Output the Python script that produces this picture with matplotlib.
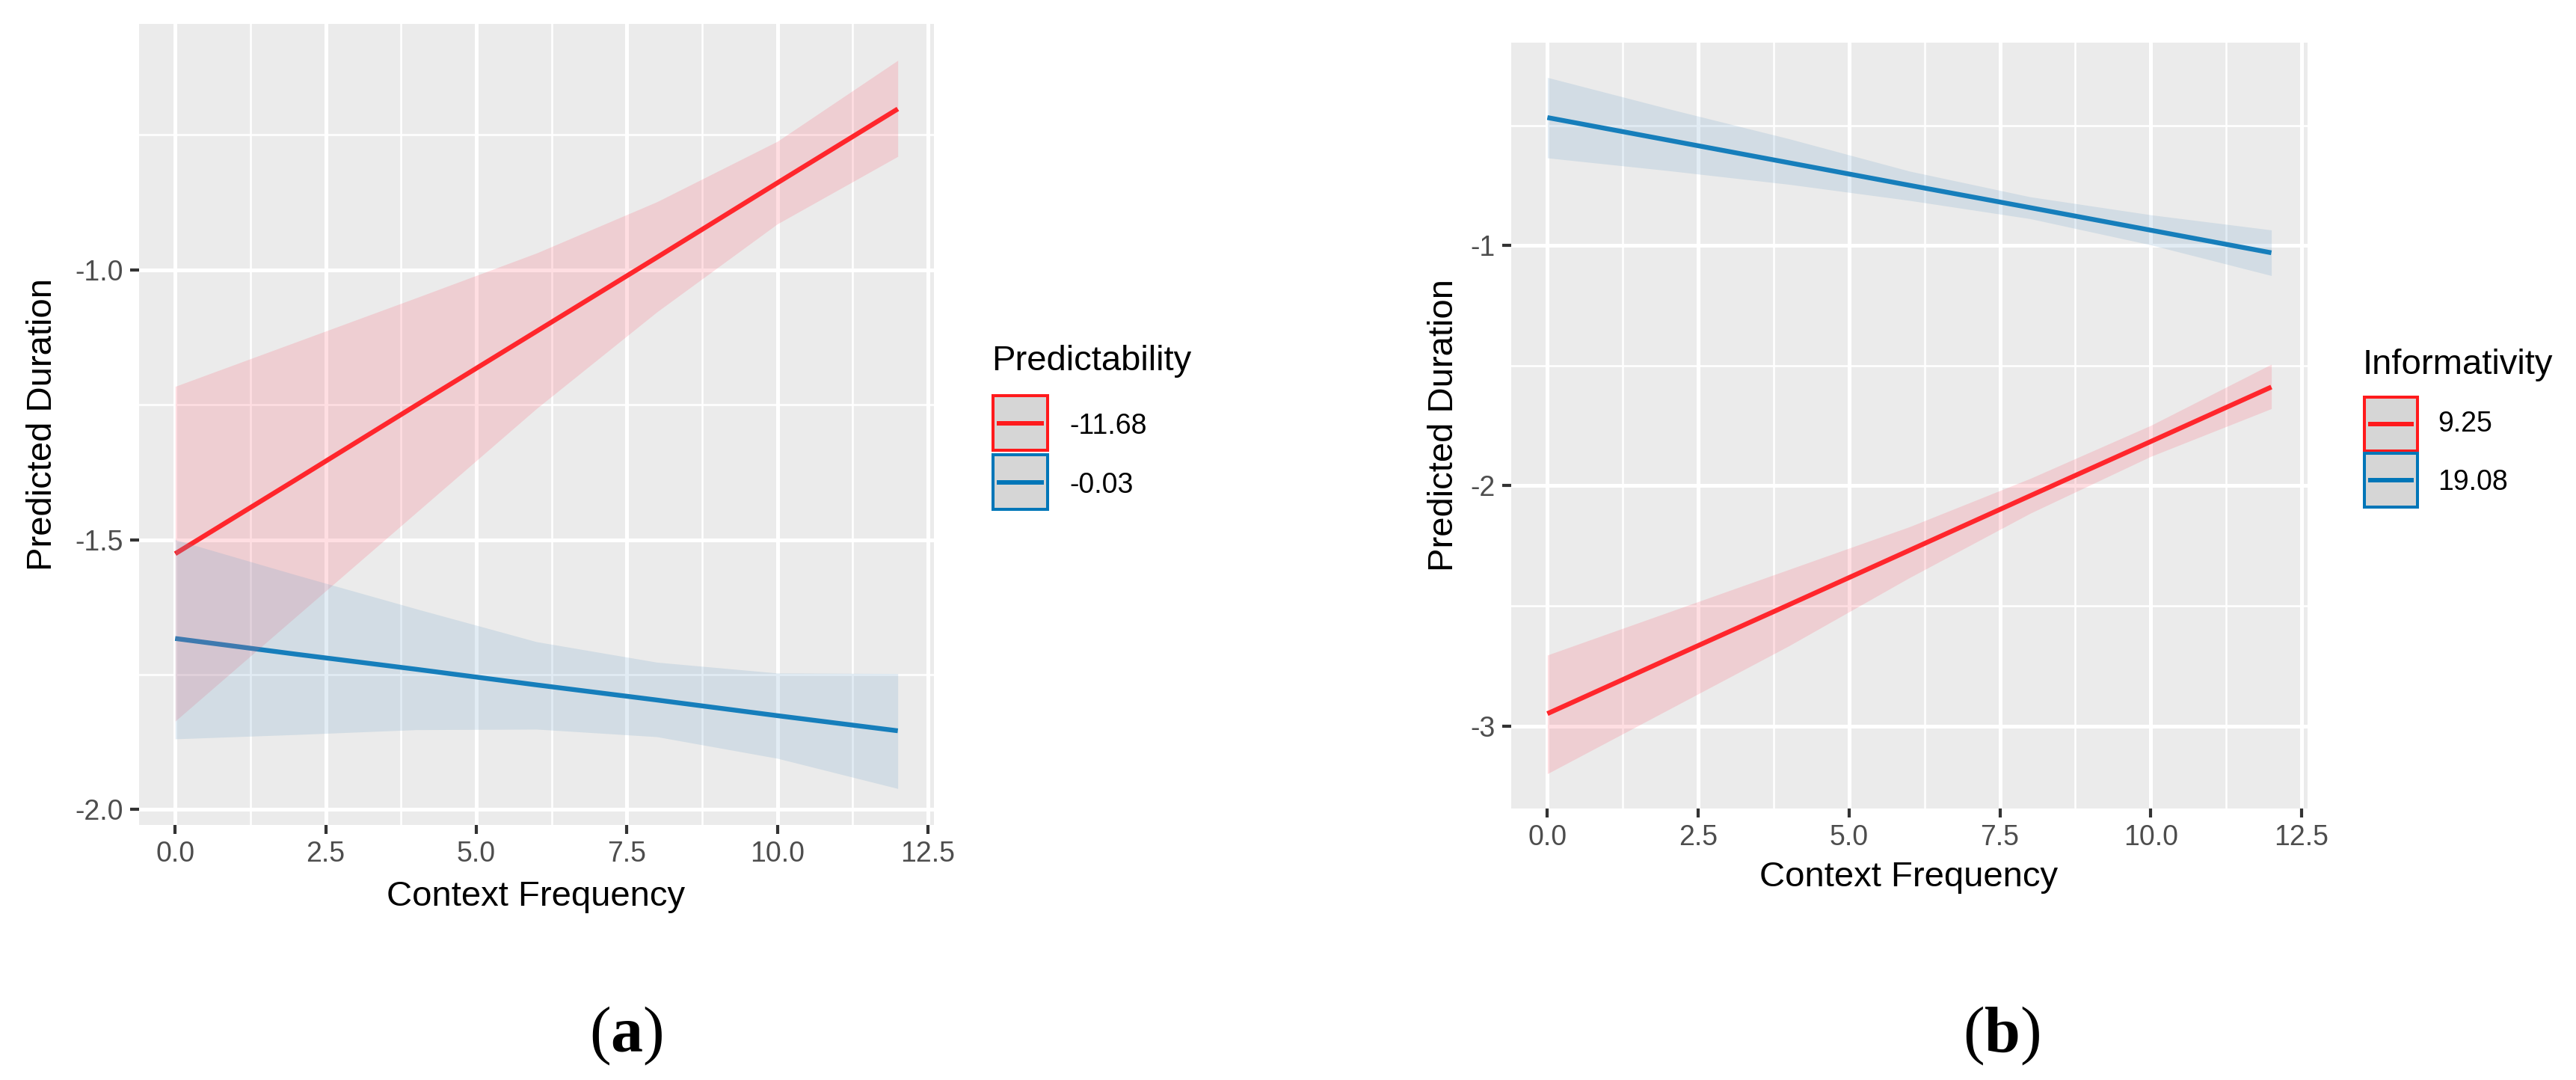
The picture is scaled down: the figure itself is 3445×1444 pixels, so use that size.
import matplotlib
matplotlib.use("Agg")
import matplotlib.pyplot as plt
import matplotlib.transforms as mtransforms
from matplotlib.patches import Rectangle
from matplotlib.lines import Line2D
import numpy as np

plt.rcParams['font.family'] = ['Liberation Sans', 'DejaVu Sans']
plt.rcParams['mathtext.fontset'] = 'custom'
plt.rcParams['mathtext.rm'] = 'Liberation Serif'
plt.rcParams['mathtext.bf'] = 'Liberation Serif:bold'

# ---------------- data ----------------
context_freq = [0, 2, 4, 6, 8, 10, 12]

# panel (a): Predictability
a_labels = ["-11.68", "-0.03"]
a_red_fit = [-1.526, -1.389, -1.251, -1.114, -0.977, -0.839, -0.702]
a_red_lo = [-1.836, -1.643, -1.450, -1.257, -1.078, -0.915, -0.790]
a_red_hi = [-1.216, -1.134, -1.052, -0.969, -0.874, -0.762, -0.612]
a_blue_fit = [-1.683, -1.712, -1.740, -1.769, -1.797, -1.826, -1.854]
a_blue_lo = [-1.869, -1.861, -1.852, -1.851, -1.865, -1.905, -1.961]
a_blue_hi = [-1.500, -1.565, -1.628, -1.689, -1.727, -1.747, -1.748]
a_yticks = [-2.0, -1.5, -1.0]
a_yticklabels = ["-2.0", "-1.5", "-1.0"]
a_yminor = [-1.75, -1.25, -0.75]

# panel (b): Informativity
b_labels = ["9.25", "19.08"]
b_red_fit = [-2.949, -2.722, -2.496, -2.269, -2.042, -1.816, -1.589]
b_red_lo = [-3.199, -2.933, -2.667, -2.383, -2.115, -1.878, -1.679]
b_red_hi = [-2.705, -2.527, -2.349, -2.171, -1.970, -1.749, -1.494]
b_blue_fit = [-0.467, -0.561, -0.655, -0.749, -0.842, -0.936, -1.030]
b_blue_lo = [-0.635, -0.688, -0.745, -0.812, -0.888, -0.997, -1.125]
b_blue_hi = [-0.300, -0.430, -0.555, -0.690, -0.797, -0.872, -0.935]
b_yticks = [-3, -2, -1]
b_yticklabels = ["-3", "-2", "-1"]
b_yminor = [-2.5, -1.5, -0.5]

xticks = [0, 2.5, 5, 7.5, 10, 12.5]
xticklabels = ["0.0", "2.5", "5.0", "7.5", "10.0", "12.5"]
xminor = [1.25, 3.75, 6.25, 8.75, 11.25]

# ---------------- style ----------------
RED = "#FF1A1C"
BLUE = "#0076B8"
RED_FILL = "#FF5A6E"
BLUE_FILL = "#6FA3C8"
FILL_ALPHA = 0.2
PANEL_BG = "#EBEBEB"
TICK_COLOR = "#4D4D4D"
W, H = 3445, 1444
DPI = 100

fig = plt.figure(figsize=(W / DPI, H / DPI), dpi=DPI)
px = mtransforms.Affine2D().scale(1.0 / W, -1.0 / H).translate(0, 1) + fig.transFigure


def make_axes(left, top, right, bottom):
    return fig.add_axes([left / W, 1 - bottom / H, (right - left) / W, (bottom - top) / H])


def draw_panel(ax, red, blue, yticks, yticklabels, yminor):
    (rf, rlo, rhi), (bf, blo, bhi) = red, blue
    ax.set_facecolor(PANEL_BG)
    for s in ax.spines.values():
        s.set_visible(False)
    ax.plot(context_freq, rf, color=RED, lw=4.6, zorder=3, solid_capstyle='butt')
    ax.plot(context_freq, bf, color=BLUE, lw=4.6, zorder=3, solid_capstyle='butt')
    ax.fill_between(context_freq, rlo, rhi, color=RED_FILL, alpha=FILL_ALPHA, lw=0, zorder=4)
    ax.fill_between(context_freq, blo, bhi, color=BLUE_FILL, alpha=FILL_ALPHA, lw=0, zorder=4)
    ymin = min(min(rlo), min(blo))
    ymax = max(max(rhi), max(bhi))
    pad = 0.05 * (ymax - ymin)
    ax.set_ylim(ymin - pad, ymax + pad)
    ax.set_xlim(-0.6, 12.6)
    ax.set_xticks(xticks)
    ax.set_xticklabels(xticklabels)
    ax.set_yticks(yticks)
    ax.set_yticklabels(yticklabels)
    ax.set_xticks(xminor, minor=True)
    ax.set_yticks(yminor, minor=True)
    ax.grid(which='major', color='white', lw=3.6, zorder=1)
    ax.grid(which='minor', color='white', lw=1.8, zorder=1)
    ax.set_axisbelow(True)
    ax.tick_params(which='major', length=8.6, width=3.0, color='#333333',
                   labelsize=27, labelcolor=TICK_COLOR, pad=6.5)
    ax.tick_params(which='minor', length=0)


ax_a = make_axes(186, 32, 1249, 1103)
draw_panel(ax_a, (a_red_fit, a_red_lo, a_red_hi), (a_blue_fit, a_blue_lo, a_blue_hi),
           a_yticks, a_yticklabels, a_yminor)
ax_b = make_axes(2021, 57, 3086, 1081)
draw_panel(ax_b, (b_red_fit, b_red_lo, b_red_hi), (b_blue_fit, b_blue_lo, b_blue_hi),
           b_yticks, b_yticklabels, b_yminor)

# axis titles
TITLE_FS = 34
fig.text(717 / W, 1 - 1211 / H, "Context Frequency", fontsize=TITLE_FS, ha='center', va='baseline')
fig.text(2553 / W, 1 - 1185 / H, "Context Frequency", fontsize=TITLE_FS, ha='center', va='baseline')
fig.text(57 / W, 1 - 567 / H, "Predicted Duration", fontsize=TITLE_FS, rotation=90, ha='center', va='center')
fig.text(1931 / W, 1 - 569 / H, "Predicted Duration", fontsize=TITLE_FS, rotation=90, ha='center', va='center')


def draw_legend(title, labels, x0, title_base, box_tops, box_w, box_h, label_x, label_bases):
    fig.text(x0, title_base, title, fontsize=TITLE_FS, ha='left', va='baseline', transform=px)
    for col, top, lab, base in zip([RED, BLUE], box_tops, labels, label_bases):
        r = Rectangle((x0 + 2, top + 2), box_w - 4, box_h - 4, transform=px,
                      facecolor='#D6D6D6', edgecolor=col, lw=2.9)
        fig.add_artist(r)
        cy = top + box_h / 2
        fig.add_artist(Line2D([x0 + 7, x0 + box_w - 7], [cy, cy], transform=px,
                              color=col, lw=4.3, solid_capstyle='butt'))
        fig.text(label_x, base, lab, fontsize=27, ha='left', va='baseline', transform=px)


draw_legend("Predictability", a_labels, 1326, 495, [527, 606], 77, 77, 1430, [580, 659])
draw_legend("Informativity", b_labels, 3160, 500, [529, 604], 75, 76, 3260, [577, 655])

# sub-figure captions
fig.text(837 / W, 1 - 1385 / H, r"$\mathrm{(}\mathbf{a}\mathrm{)}$", fontsize=62, ha='center', va='center')
fig.text(2677 / W, 1 - 1385 / H, r"$\mathrm{(}\mathbf{b}\mathrm{)}$", fontsize=62, ha='center', va='center')

fig.savefig("out.png", dpi=DPI, facecolor='white')
